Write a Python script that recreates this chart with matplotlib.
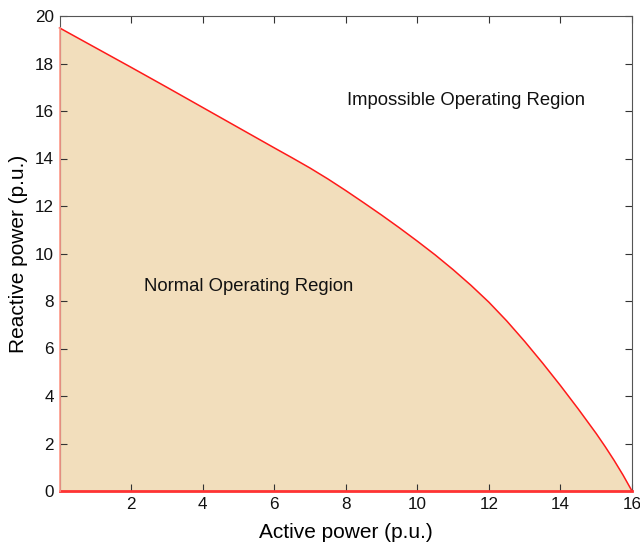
import matplotlib
matplotlib.use("Agg")
import matplotlib.pyplot as plt

plt.rcParams['font.family'] = ['Liberation Sans', 'DejaVu Sans']

# Capability curve (active power P vs reactive power Q)
active_power = [0, 1, 2, 3, 4, 5, 6, 6.5, 7, 7.5, 8, 8.5, 9, 9.5, 10, 10.5, 11, 11.5,
                12, 12.5, 13, 13.5, 14, 14.5, 15, 15.25, 15.5, 15.75, 16]
reactive_power = [19.5, 18.67, 17.84, 17.0, 16.15, 15.3, 14.45, 14.03, 13.6, 13.14,
                  12.65, 12.14, 11.62, 11.08, 10.52, 9.94, 9.32, 8.66, 7.95, 7.16,
                  6.3, 5.39, 4.44, 3.45, 2.42, 1.87, 1.29, 0.67, 0.0]

x_ticks = [2, 4, 6, 8, 10, 12, 14, 16]
y_ticks = [0, 2, 4, 6, 8, 10, 12, 14, 16, 18, 20]

fig = plt.figure(figsize=(6.4, 5.42), dpi=100)
ax = fig.add_axes([59.5 / 640, 51 / 542, 572.5 / 640, 475 / 542])

px = [0] + active_power + [0]
py = [0] + reactive_power + [0]
ax.fill(px, py, facecolor='#F2DEBC', edgecolor='none', zorder=1)
ax.plot(active_power, reactive_power, color='#FF1A1A', lw=1.1, zorder=3,
        clip_on=False, solid_joinstyle='round')
ax.plot([0, 16], [0, 0], color='#FF3333', lw=2.0, zorder=3, clip_on=False)
ax.plot([0, 0], [0, reactive_power[0]], color='#FF9A8A', lw=1.2, zorder=3, clip_on=False)

ax.set_xlim(0, 16)
ax.set_ylim(0, 20)
ax.set_xticks(x_ticks)
ax.set_yticks(y_ticks)
ax.tick_params(direction='in', length=5, width=0.8, top=True, right=True,
               labelsize=12.3, colors='#333333', labelcolor='#111111', pad=4)
for s in ax.spines.values():
    s.set_color('#555555')
    s.set_linewidth(0.8)

ax.set_xlabel('Active power (p.u.)', fontsize=15, labelpad=8)
ax.set_ylabel('Reactive power (p.u.)', fontsize=15, labelpad=5)

ax.text(5.29, 8.6, 'Normal Operating Region', fontsize=13.3, ha='center', va='center',
        color='#111111')
ax.text(11.36, 16.46, 'Impossible Operating Region', fontsize=13.3, ha='center',
        va='center', color='#111111')

fig.savefig('out.png', dpi=100)
